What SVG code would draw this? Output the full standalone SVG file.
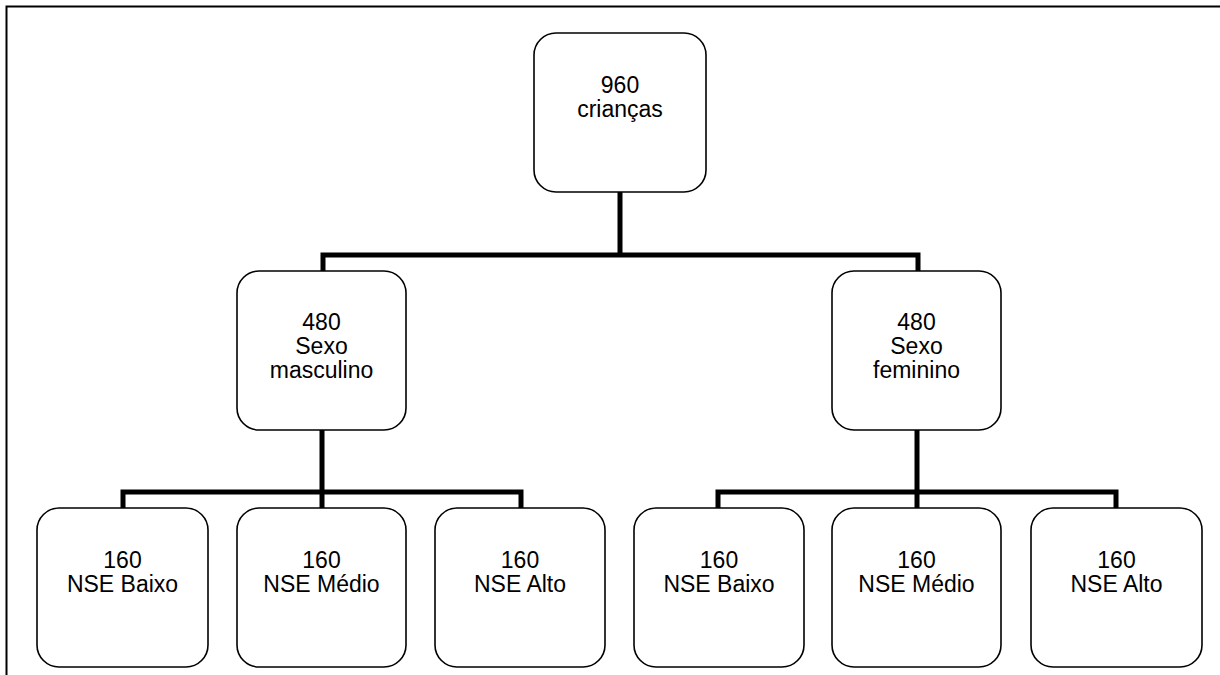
<svg xmlns="http://www.w3.org/2000/svg" width="1220" height="675" viewBox="0 0 1220 675">
<style>
.box{fill:#fff;stroke:#000;stroke-width:1.6}
.t{font-family:"Liberation Sans",Arial,sans-serif;font-size:23px;fill:#000;text-anchor:middle}
.c{fill:none;stroke:#000;stroke-width:5;stroke-linecap:square}
</style>
<rect x="0" y="0" width="1220" height="675" fill="#fff"/>
<rect x="6.5" y="6.5" width="1400" height="1000" fill="none" stroke="#000" stroke-width="2"/>
<g id="connectors">
<path class="c" d="M620 192V255M323 271V255H918V271"/>
<path class="c" d="M322 430V492M123 508V492H521V508M322 492V508"/>
<path class="c" d="M917 430V492M718 508V492H1116V508M917 492V508"/>
</g>
<g id="n0"><rect class="box" x="534" y="33" width="172" height="159" rx="22"/><text class="t" x="620" y="93">960</text><text class="t" x="620" y="117">crianças</text></g>
<g id="n1"><rect class="box" x="237" y="271" width="169" height="159" rx="22"/><text class="t" x="321.5" y="330">480</text><text class="t" x="321.5" y="354">Sexo</text><text class="t" x="321.5" y="378">masculino</text></g>
<g id="n2"><rect class="box" x="832" y="271" width="169" height="159" rx="22"/><text class="t" x="916.5" y="330">480</text><text class="t" x="916.5" y="354">Sexo</text><text class="t" x="916.5" y="378">feminino</text></g>
<g id="n3"><rect class="box" x="37" y="508" width="171" height="159" rx="22"/><text class="t" x="122.5" y="568">160</text><text class="t" x="122.5" y="592">NSE Baixo</text></g>
<g id="n4"><rect class="box" x="237" y="508" width="169" height="159" rx="22"/><text class="t" x="321.5" y="568">160</text><text class="t" x="321.5" y="592">NSE Médio</text></g>
<g id="n5"><rect class="box" x="435" y="508" width="170" height="159" rx="22"/><text class="t" x="520" y="568">160</text><text class="t" x="520" y="592">NSE Alto</text></g>
<g id="n6"><rect class="box" x="634" y="508" width="170" height="159" rx="22"/><text class="t" x="719" y="568">160</text><text class="t" x="719" y="592">NSE Baixo</text></g>
<g id="n7"><rect class="box" x="832" y="508" width="169" height="159" rx="22"/><text class="t" x="916.5" y="568">160</text><text class="t" x="916.5" y="592">NSE Médio</text></g>
<g id="n8"><rect class="box" x="1031" y="508" width="171" height="159" rx="22"/><text class="t" x="1116.5" y="568">160</text><text class="t" x="1116.5" y="592">NSE Alto</text></g>
</svg>
